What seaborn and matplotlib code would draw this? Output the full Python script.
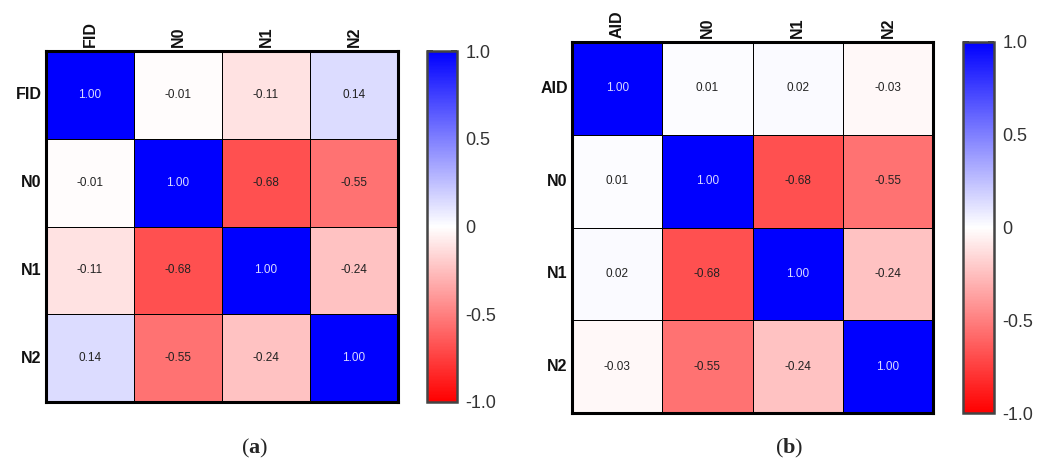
import numpy as np
import pandas as pd
import matplotlib
matplotlib.use("Agg")
import matplotlib.pyplot as plt
from matplotlib.colors import LinearSegmentedColormap
import seaborn as sns

# Correlation matrices of the two feature sets
fid_labels = ["FID", "N0", "N1", "N2"]
fid_corr = [
    [1.00, -0.01, -0.11, 0.14],
    [-0.01, 1.00, -0.68, -0.55],
    [-0.11, -0.68, 1.00, -0.24],
    [0.14, -0.55, -0.24, 1.00],
]

aid_labels = ["AID", "N0", "N1", "N2"]
aid_corr = [
    [1.00, 0.01, 0.02, -0.03],
    [0.01, 1.00, -0.68, -0.55],
    [0.02, -0.68, 1.00, -0.24],
    [-0.03, -0.55, -0.24, 1.00],
]

cbar_ticks = [-1.0, -0.5, 0.0, 0.5, 1.0]
cbar_ticklabels = ["-1.0", "-0.5", "0", "0.5", "1.0"]
panel_tags = ["a", "b"]

sns.set_theme(style="white")
plt.rcParams["font.family"] = ["Liberation Sans", "DejaVu Sans"]
plt.rcParams["mathtext.fontset"] = "custom"
plt.rcParams["mathtext.rm"] = "Liberation Serif"
plt.rcParams["mathtext.bf"] = "Liberation Serif:bold"

cmap = LinearSegmentedColormap.from_list("rwb", ["#ff0000", "#ffffff", "#0000ff"])

W, H = 1054, 466
fig = plt.figure(figsize=(W / 100, H / 100), dpi=100)


def px_rect(x0, y0, x1, y1):
    return [x0 / W, 1 - y1 / H, (x1 - x0) / W, (y1 - y0) / H]


panels = [
    (fid_labels, fid_corr, px_rect(46, 51, 398, 402), px_rect(427, 51, 457, 402), 255),
    (aid_labels, aid_corr, px_rect(572, 42, 933, 413), px_rect(963, 42, 994, 413), 789),
]

for (labels, corr, hm_rect, cb_rect, tag_x), tag in zip(panels, panel_tags):
    ax = fig.add_axes(hm_rect)
    cax = fig.add_axes(cb_rect)
    df = pd.DataFrame(corr, index=labels, columns=labels)
    sns.heatmap(
        df, ax=ax, cbar_ax=cax, cmap=cmap, vmin=-1, vmax=1,
        annot=True, fmt=".2f", annot_kws={"fontsize": 8.5},
        linewidths=0.6, linecolor="black", square=False,
    )
    # annotation colours: light on the strong blue diagonal, dark elsewhere
    for t in ax.texts:
        val = float(t.get_text())
        t.set_color("#d9d9ff" if val > 0.8 else "#222222")

    ax.xaxis.tick_top()
    ax.set_xticklabels(labels, rotation=90, fontsize=11.5, fontweight="bold", color="#111111")
    ax.set_yticklabels(labels, rotation=0, fontsize=11.5, fontweight="bold", color="#111111")
    ax.tick_params(axis="both", length=0, pad=3)
    ax.set_xlabel("")
    ax.set_ylabel("")
    for sp in ax.spines.values():
        sp.set_visible(True)
        sp.set_linewidth(2.2)
        sp.set_color("black")

    cax.set_yticks(cbar_ticks)
    cax.set_yticklabels(cbar_ticklabels, fontsize=13, color="#333333")
    cax.tick_params(axis="y", which="both", direction="in", length=4, width=1.2,
                    color="#222222", left=True, right=True, labelleft=False,
                    labelright=True, pad=6)
    cbar = ax.collections[0].colorbar
    cbar.outline.set_visible(True)
    cbar.outline.set_linewidth(1.8)
    cbar.outline.set_edgecolor("#444444")

    fig.text(tag_x / W, 1 - 448 / H, r"($\mathbf{%s}$)" % tag,
             ha="center", va="center", fontsize=16, family="Liberation Serif")

fig.savefig("out.png", dpi=100)
